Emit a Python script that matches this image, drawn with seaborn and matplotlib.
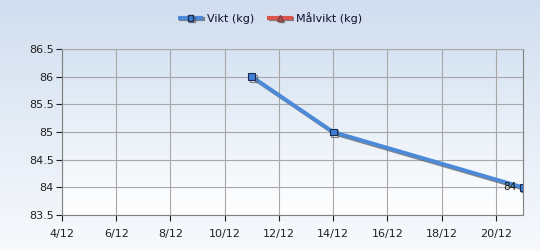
import numpy as np
import pandas as pd
import matplotlib
matplotlib.use("Agg")
import matplotlib.pyplot as plt
import matplotlib.patheffects as pe
from matplotlib.lines import Line2D
import seaborn as sns

# data
days = [11, 14, 21]
vikt = [86.0, 85.0, 84.0]
tick_days = [4, 6, 8, 10, 12, 14, 16, 18, 20]
tick_labels = ["4/12", "6/12", "8/12", "10/12", "12/12", "14/12", "16/12", "18/12", "20/12"]
y_ticks = [83.5, 84, 84.5, 85, 85.5, 86, 86.5]
y_labels = ["83.5", "84", "84.5", "85", "85.5", "86", "86.5"]
series_names = ["Vikt (kg)", "Målvikt (kg)"]

sns.set_theme(style="white")
plt.rcParams['font.family'] = ['DejaVu Sans']

fig = plt.figure(figsize=(5.4, 2.5), dpi=100)
# figure gradient background
bg = fig.add_axes([0, 0, 1, 1], zorder=-10)
grad = np.linspace(0, 1, 256).reshape(-1, 1)
top_c = np.array([0.82, 0.87, 0.94])
bot_c = np.array([0.97, 0.98, 0.99])
img = top_c[None, None, :] * (1 - grad[:, :, None]) + bot_c[None, None, :] * grad[:, :, None]
bg.imshow(img, aspect='auto', extent=[0, 1, 0, 1])
bg.axis('off')

ax = fig.add_axes([62/540, 1-215/250, (523-62)/540, (215-49)/250])
ax.set_facecolor('none')
# axes gradient
top_a = np.array([0.84, 0.89, 0.95])
bot_a = np.array([1.0, 1.0, 1.0])
img2 = top_a[None, None, :] * (1 - grad[:, :, None]) + bot_a[None, None, :] * grad[:, :, None]
ax.imshow(img2, aspect='auto', extent=[4, 21, 83.5, 86.5], zorder=0)

df = pd.DataFrame({"day": days, "vikt": vikt})
sns.lineplot(data=df, x="day", y="vikt", ax=ax, color="#4a8ad8", linewidth=2.7,
             marker="s", markersize=5, markerfacecolor="#3f7fd6", markeredgecolor="#1a2a50",
             markeredgewidth=0.8, zorder=5,
             path_effects=[pe.SimpleLineShadow(offset=(1.2, -1.2), shadow_color="#555555", alpha=0.7), pe.Normal()])

ax.text(days[-1] - 0.25, vikt[-1], f"{vikt[-1]:g}", ha="right", va="center", fontsize=7.5, color="#101010", zorder=6)

ax.set_xlim(4, 21)
ax.set_ylim(83.5, 86.5)
ax.set_xticks(tick_days)
ax.set_xticklabels(tick_labels)
ax.set_yticks(y_ticks)
ax.set_yticklabels(y_labels)
ax.grid(True, color="#a8a8a8", linewidth=0.8, zorder=1)
for ln in ax.get_xgridlines() + ax.get_ygridlines():
    ln.set_zorder(1)
ax.tick_params(axis='both', labelsize=8, colors="#202020", length=4, width=0.8, direction='out',
               left=True, bottom=True, pad=2)
ax.tick_params(axis='x', pad=6)
for s in ax.spines.values():
    s.set_color("#808080")
    s.set_linewidth(0.8)
ax.spines['top'].set_color("#a8a8a8")
ax.set_xlabel("")
ax.set_ylabel("")

handles = [
    Line2D([], [], color="#4a8ad8", linewidth=3, marker="s", markersize=4, solid_capstyle="butt",
           markerfacecolor="#3f7fd6", markeredgecolor="#1a2a50",
           path_effects=[pe.SimpleLineShadow(offset=(1, -1), shadow_color="#555555", alpha=0.7), pe.Normal()]),
    Line2D([], [], color="#d9534f", linewidth=3, marker="^", markersize=4, solid_capstyle="butt",
           markerfacecolor="#c05050", markeredgecolor="#804040",
           path_effects=[pe.SimpleLineShadow(offset=(1, -1), shadow_color="#555555", alpha=0.7), pe.Normal()]),
]
fig.legend(handles, series_names, loc="center", bbox_to_anchor=(0.5, 1-18/250), ncol=2,
           frameon=False, fontsize=8, handlelength=2.3, handletextpad=0.3, columnspacing=1.2,
           labelcolor="#101030")

fig.savefig("out.png", dpi=100)
